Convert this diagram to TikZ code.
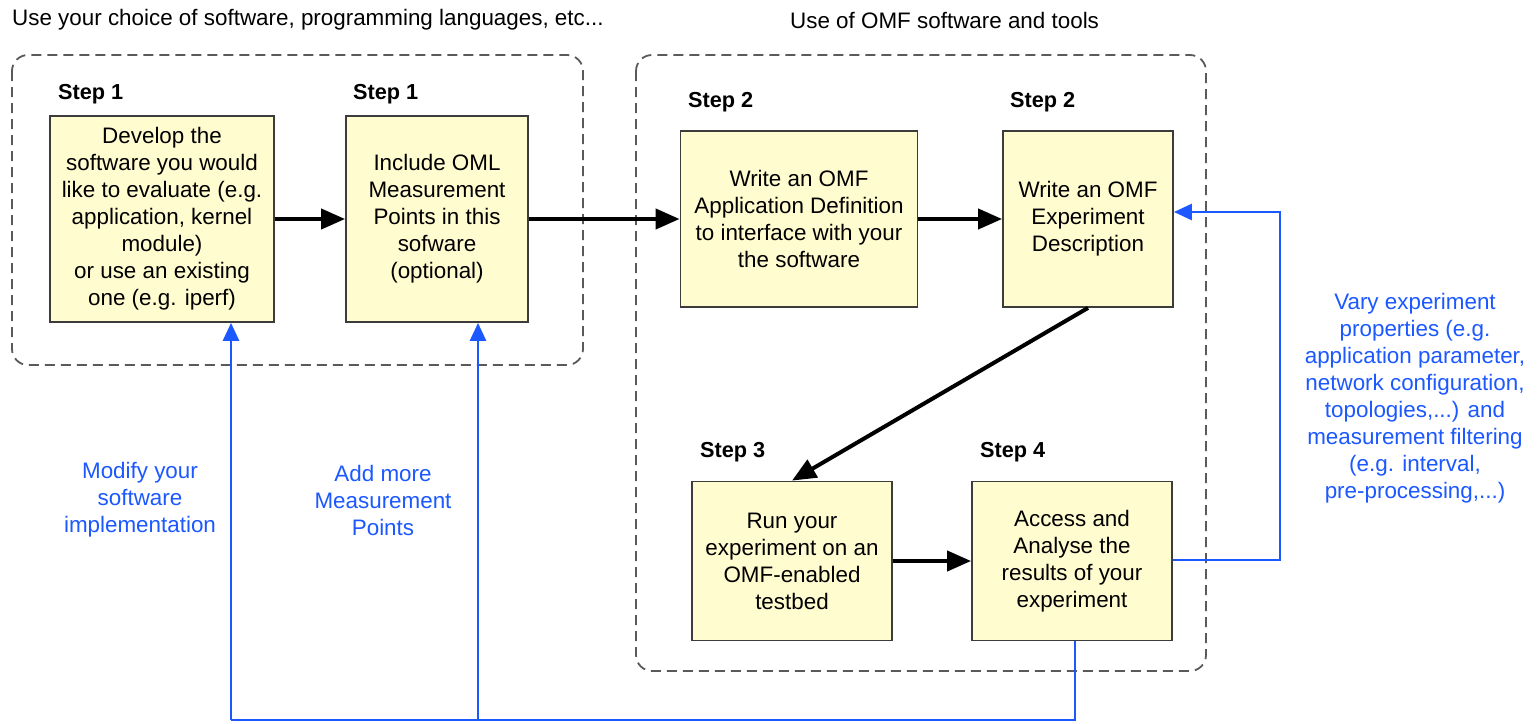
\documentclass[tikz,border=0pt]{standalone}
\usepackage{fontspec}
\setmainfont{Liberation Sans}
\usetikzlibrary{arrows.meta}
\definecolor{boxfill}{RGB}{255,252,208}
\definecolor{boxline}{RGB}{60,60,60}
\definecolor{fbblue}{RGB}{28,88,255}
\definecolor{dashgray}{RGB}{90,90,90}
\tikzset{
  stepbox/.style={draw=boxline, fill=boxfill, line width=1.8pt, align=center, inner sep=0pt,
    font=\fontsize{22.4}{27}\selectfont},
  steplabel/.style={anchor=west, font=\bfseries\fontsize{21.7}{27}\selectfont, inner sep=0pt},
  header/.style={anchor=west, font=\fontsize{22.4}{27}\selectfont, inner sep=0pt},
  bluetext/.style={text=fbblue, align=center, font=\fontsize{22.4}{27}\selectfont, inner sep=0pt},
  container/.style={draw=dashgray, line width=1.8pt, rounded corners=16pt, dash pattern=on 10pt off 6pt},
  flow/.style={line width=4pt, -{Triangle[length=24pt,width=20pt]}},
  feedback/.style={draw=fbblue, line width=2.8pt, -{Triangle[length=18pt,width=16pt]}},
  feedline/.style={draw=fbblue, line width=2.8pt},
}
\begin{document}
\begin{tikzpicture}[x=1pt,y=-1pt]
\useasboundingbox (0,0) rectangle (1539,723);
\fill[white] (0,0) rectangle (1539,723);

% containers
\draw[container] (12,55) rectangle (583,365);
\draw[container] (636,55) rectangle (1206,671);

% headers
\node[header] (h1) at (12,20) {Use your choice of software, programming languages, etc...};
\node[header] (h2) at (790,20) {Use of OMF software and tools};

% step labels
\node[steplabel] (l1) at (58,94) {Step 1};
\node[steplabel] (l2) at (353,94) {Step 1};
\node[steplabel] (l3) at (688,102) {Step 2};
\node[steplabel] (l4) at (1010,102) {Step 2};
\node[steplabel] (l5) at (700,452) {Step 3};
\node[steplabel] (l6) at (980,452) {Step 4};

% boxes
\node[stepbox, minimum width=224pt, minimum height=206pt] (b1) at (162,219)
  {Develop the\\software you would\\like to evaluate (e.g.\\application, kernel\\module)\\or use an existing\\one (e.g. iperf)};
\node[stepbox, minimum width=182pt, minimum height=206pt] (b2) at (437,219)
  {Include OML\\Measurement\\Points in this\\sofware\\(optional)};
\node[stepbox, minimum width=237pt, minimum height=176pt] (b3) at (799,219)
  {Write an OMF\\Application Definition\\to interface with your\\the software};
\node[stepbox, minimum width=170pt, minimum height=176pt] (b4) at (1088,219)
  {Write an OMF\\Experiment\\Description};
\node[stepbox, minimum width=200pt, minimum height=159pt] (b5) at (792,561)
  {Run your\\experiment on an\\OMF-enabled\\testbed};
\node[stepbox, minimum width=200pt, minimum height=159pt] (b6) at (1072,561)
  {Access and\\Analyse the\\results of your\\experiment};

% flow arrows
\draw[flow] (b1) -- (b2);
\draw[flow] (b2) -- (b3);
\draw[flow] (b3) -- (b4);
\draw[flow] (b4.south) -- (b5.north);
\draw[flow] (b5) -- (b6);

% feedback
\coordinate (r1) at (1280,560);
\coordinate (r2) at (1280,212);
\draw[feedback] (b6.east |- r1) -- (r1) -- (r2) -- (b4.east |- r2);

\coordinate (d0) at (1075,720);
\coordinate (d1) at (231,720);
\coordinate (d2) at (478,720);
\draw[feedline] (b6.south -| d0) -- (d0) -- (d1);
\draw[feedback] (d1) -- (b1.south -| d1);
\draw[feedback] (d2) -- (b2.south -| d2);

% blue labels
\node[bluetext] (t1) at (140,500) {Modify your\\software\\implementation};
\node[bluetext] (t2) at (383,500) {Add more\\Measurement\\Points};
\node[bluetext] (t3) at (1415,398) {Vary experiment\\properties (e.g.\\application parameter,\\network configuration,\\topologies,...) and\\measurement filtering\\(e.g. interval,\\pre-processing,...)};
\end{tikzpicture}
\end{document}
